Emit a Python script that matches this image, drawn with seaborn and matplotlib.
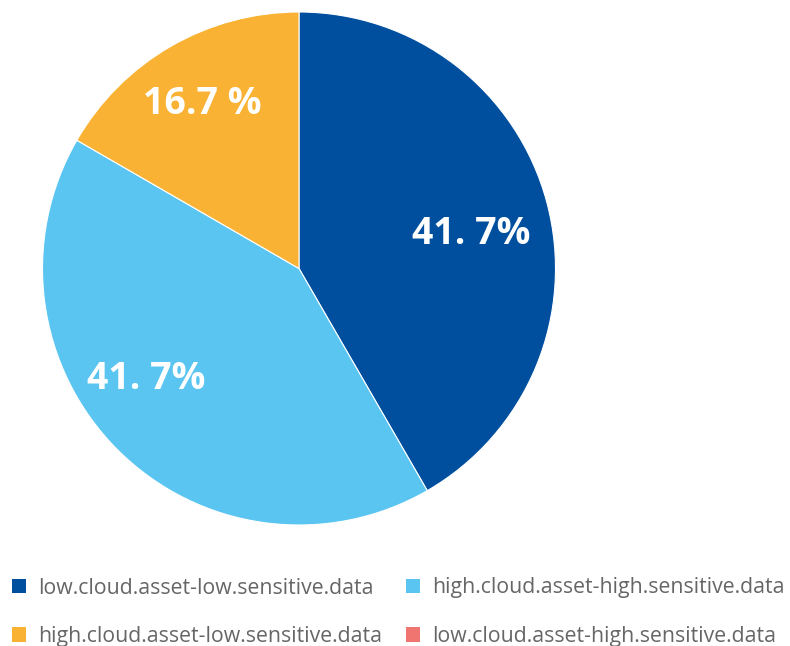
import numpy as np
import matplotlib
matplotlib.use("Agg")
import matplotlib.pyplot as plt
from matplotlib.patches import Patch
import seaborn as sns

# Shares of assets by cloud exposure and data sensitivity
categories = [
    "low.cloud.asset-low.sensitive.data",
    "high.cloud.asset-high.sensitive.data",
    "high.cloud.asset-low.sensitive.data",
    "low.cloud.asset-high.sensitive.data",
]
counts = [5, 5, 2, 0]
pct_labels = ["41. 7%", "41. 7%", "16.7 %", ""]
colors = ["#004F9F", "#5BC5F2", "#F9B233", "#F07470"]

sns.set_style("white")
plt.rcParams["font.family"] = ["Open Sans", "DejaVu Sans"]

fig = plt.figure(figsize=(7.9, 6.46), dpi=100)
ax = fig.add_axes([42.5 / 790, 1 - 525 / 646, 513 / 790, 513 / 646])

shown = [i for i, c in enumerate(counts) if c > 0]
wedges, _ = ax.pie(
    [counts[i] for i in shown],
    colors=[colors[i] for i in shown],
    startangle=90,
    counterclock=False,
    wedgeprops=dict(edgecolor="white", linewidth=0.8),
    radius=1.0,
)
ax.set_aspect("equal")
ax.set_xlim(-1.0, 1.0)
ax.set_ylim(-1.0, 1.0)

# percentage labels placed along each wedge's bisector
label_r = [0.685, 0.729, 0.752]
label_shift = [-2.9, -9.8, 0.2]
for k, (i, w) in enumerate(zip(shown, wedges)):
    ang = np.deg2rad((w.theta1 + w.theta2) / 2 + label_shift[k])
    ax.text(label_r[k] * np.cos(ang), label_r[k] * np.sin(ang) - 0.01,
            pct_labels[i], ha="center", va="center", color="white",
            fontsize=27, fontweight="bold")

order = [0, 2, 1, 3]
handles = [Patch(facecolor=colors[i], edgecolor="none") for i in order]
leg = fig.legend(
    handles, [categories[i] for i in order],
    ncol=2, loc="upper left", bbox_to_anchor=(3.5 / 790, 1 - 569 / 646),
    frameon=False, fontsize=15.3, handlelength=0.65, handleheight=0.65,
    handletextpad=0.58, labelspacing=1.29, columnspacing=1.12,
    borderaxespad=0.0, borderpad=0.4,
)
for t in leg.get_texts():
    t.set_color("#666666")

fig.savefig("out.png", dpi=100)
